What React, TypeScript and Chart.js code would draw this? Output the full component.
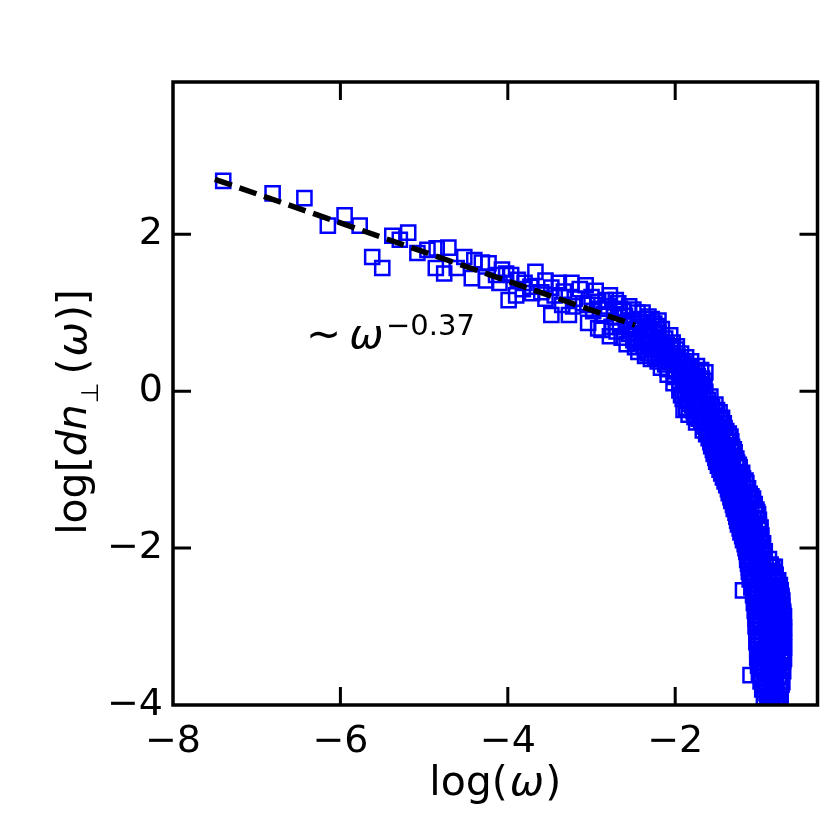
import { useEffect, useRef } from "react";
import { Chart, Plugin, registerables } from "chart.js";

Chart.register(...registerables);

// tick values
const xTicks = [-8, -6, -4, -2];
const yTicks = [-4, -2, 0, 2];

// fitted power law  ~ w^-0.37
const fitX = [-7.5, -2.48];
const fitY = [2.7, 0.84];

// sparse low-frequency points
const headPts: [number, number][] = [
  [-7.4, 2.68], [-6.81, 2.52], [-6.43, 2.46], [-6.15, 2.11], [-5.95, 2.24],
  [-5.77, 2.11], [-5.62, 1.71], [-5.5, 1.57], [-5.38, 1.98], [-5.29, 1.93],
  [-5.19, 2.02], [-5.08, 1.76], [-4.96, 1.8], [-4.85, 1.82], [-4.71, 1.83],
  [-4.86, 1.57], [-4.76, 1.5],
];

// flat part of the spectrum
const shoulderPts: [number, number][] = [
  [-4.61, 1.57], [-4.52, 1.71], [-4.4, 1.67], [-4.31, 1.64], [-4.23, 1.63],
  [-4.43, 1.44], [-4.26, 1.41], [-4.14, 1.48], [-4.02, 1.5], [-3.96, 1.48],
  [-4.07, 1.55], [-3.99, 1.16], [-3.88, 1.42], [-3.8, 1.38], [-3.73, 1.33],
  [-3.67, 1.52], [-3.71, 1.25], [-3.6, 1.26], [-3.55, 1.41], [-3.48, 1.32],
  [-3.48, 0.97], [-3.44, 1.22], [-3.39, 1.38], [-3.33, 1.27], [-3.27, 0.97],
  [-3.24, 1.38], [-3.2, 1.18], [-3.14, 1.3], [-3.07, 1.35], [-3.05, 1.1],
  [-3.0, 1.2], [-2.95, 1.28], [-2.9, 1.05], [-2.83, 1.16], [-2.78, 1.22],
  [-2.71, 1.16], [-2.66, 1.05], [-3.04, 0.87], [-2.88, 0.78], [-2.76, 0.82],
  [-2.66, 0.82], [-2.6, 0.96], [-2.55, 1.08], [-2.52, 0.9], [-2.45, 1.0],
  [-2.42, 0.78], [-2.36, 0.82], [-2.32, 0.95], [-2.48, 0.56], [-2.36, 0.45],
  [-3.1, 1.12], [-2.98, 1.02], [-2.92, 1.14], [-2.85, 0.98], [-2.8, 1.08],
  [-2.73, 0.95], [-2.68, 1.12], [-2.62, 1.02], [-2.57, 0.88], [-2.5, 1.04],
  [-2.44, 0.92], [-2.39, 1.0], [-2.34, 0.88], [-2.28, 0.92], [-2.25, 0.86],
  [-2.2, 0.9], [-3.35, 1.1], [-3.22, 1.08], [-3.55, 1.18], [-3.82, 1.3],
  [-3.9, 1.22], [-4.1, 1.38],
];

// knee, where the spectrum bends down
const kneePts: [number, number][] = [
  [-2.92, 0.8], [-2.7, 0.76], [-2.58, 0.84], [-2.47, 0.79], [-2.4, 0.86], [-2.3, 0.77], [-2.22, 0.83], [-2.16, 0.79],
  [-2.78, 0.7], [-2.64, 0.68], [-2.55, 0.73], [-2.44, 0.66], [-2.37, 0.71], [-2.28, 0.69], [-2.2, 0.74], [-2.12, 0.67], [-2.06, 0.71],
  [-2.58, 0.6], [-2.47, 0.63], [-2.38, 0.57], [-2.31, 0.61], [-2.24, 0.58], [-2.17, 0.63], [-2.1, 0.59], [-2.03, 0.62], [-1.98, 0.57],
  [-2.44, 0.5], [-2.33, 0.48], [-2.26, 0.53], [-2.19, 0.47], [-2.12, 0.51], [-2.06, 0.49], [-1.99, 0.53], [-1.93, 0.48],
  [-2.29, 0.41], [-2.21, 0.38], [-2.14, 0.42], [-2.07, 0.37], [-2.01, 0.41], [-1.94, 0.39], [-1.87, 0.43], [-1.81, 0.38],
  [-2.17, 0.3], [-2.09, 0.28], [-2.02, 0.33], [-1.95, 0.27], [-1.88, 0.31], [-1.81, 0.29], [-1.74, 0.32], [-1.69, 0.27],
  [-2.09, 0.21], [-2.01, 0.18], [-1.94, 0.22], [-1.87, 0.17], [-1.8, 0.21], [-1.73, 0.19], [-1.64, 0.24], [-1.68, 0.16],
  [-2.02, 0.1], [-1.95, 0.08], [-1.88, 0.12], [-1.81, 0.07], [-1.75, 0.11], [-1.69, 0.09], [-1.65, 0.13],
  [-1.95, 0.01], [-1.88, -0.02], [-1.82, 0.02], [-1.76, -0.03], [-1.7, 0.0], [-1.64, -0.01],
  [-1.91, -0.1], [-1.85, -0.12], [-1.79, -0.08], [-1.73, -0.13], [-1.67, -0.09], [-1.61, -0.11], [-1.58, -0.07],
  [-1.87, -0.21], [-1.9, -0.24], [-1.8, -0.18], [-1.74, -0.22], [-1.68, -0.19], [-1.62, -0.23], [-1.56, -0.2], [-1.52, -0.17],
  [-1.84, -0.3], [-1.77, -0.33], [-1.71, -0.28], [-1.65, -0.32], [-1.59, -0.29], [-1.53, -0.31], [-1.47, -0.27],
  [-1.75, -0.4], [-1.69, -0.38], [-1.63, -0.42], [-1.57, -0.39], [-1.51, -0.43], [-1.46, -0.37], [-1.42, -0.41],
  [-1.67, -0.5], [-1.61, -0.52], [-1.55, -0.48], [-1.5, -0.53], [-1.44, -0.49], [-1.39, -0.51],
  [-1.6, -0.6], [-1.54, -0.58], [-1.49, -0.62], [-1.44, -0.59], [-1.39, -0.63], [-1.34, -0.58],
  [-1.57, -0.7], [-1.52, -0.73], [-1.47, -0.68], [-1.42, -0.72], [-1.37, -0.69], [-1.32, -0.71],
  [-1.54, -0.8], [-1.49, -0.78], [-1.44, -0.82], [-1.39, -0.79], [-1.34, -0.83], [-1.29, -0.78],
  [-1.51, -0.9], [-1.46, -0.92], [-1.41, -0.88], [-1.36, -0.93], [-1.31, -0.89], [-1.26, -0.91],
  [-1.47, -1.0], [-1.42, -0.98], [-1.37, -1.02], [-1.32, -0.99], [-1.27, -1.03], [-1.23, -0.97],
];

// more knee points lying between the rows above
const kneeFillPts: [number, number][] = [
  [-2.5, 0.65], [-2.4, 0.62], [-2.29, 0.64], [-2.15, 0.55], [-2.05, 0.56], [-2.36, 0.53],
  [-2.24, 0.44], [-2.1, 0.45], [-1.97, 0.44], [-1.9, 0.35], [-2.12, 0.34], [-1.99, 0.25],
  [-1.84, 0.24], [-1.77, 0.26], [-1.91, 0.15], [-1.78, 0.14], [-1.72, 0.05], [-1.85, 0.04],
  [-1.67, 0.06], [-1.93, -0.05], [-1.8, -0.04], [-1.62, -0.16], [-1.71, -0.15], [-1.83, -0.16],
  [-1.78, -0.26], [-1.6, -0.25], [-1.5, -0.24], [-1.72, -0.35], [-1.56, -0.36], [-1.44, -0.34],
  [-1.66, -0.45], [-1.53, -0.46], [-1.41, -0.47], [-1.63, -0.55], [-1.47, -0.56], [-1.36, -0.54],
  [-1.58, -0.65], [-1.45, -0.66], [-1.33, -0.64], [-1.55, -0.75], [-1.4, -0.76], [-1.3, -0.74],
  [-1.52, -0.85], [-1.38, -0.84], [-1.27, -0.86], [-1.49, -0.95], [-1.34, -0.96], [-1.24, -0.94],
];

// steep high-frequency tail
const tailPts: [number, number][] = [
  [-1.43, -1.1], [-1.38, -1.12], [-1.33, -1.08], [-1.28, -1.13], [-1.23, -1.09], [-1.19, -1.11],
  [-1.39, -1.2], [-1.34, -1.18], [-1.29, -1.22], [-1.24, -1.19], [-1.19, -1.23], [-1.15, -1.17],
  [-1.36, -1.3], [-1.31, -1.32], [-1.26, -1.28], [-1.21, -1.33], [-1.16, -1.29], [-1.11, -1.31],
  [-1.33, -1.4], [-1.28, -1.38], [-1.23, -1.42], [-1.18, -1.39], [-1.13, -1.43], [-1.07, -1.37],
  [-1.3, -1.5], [-1.25, -1.52], [-1.2, -1.48], [-1.15, -1.53], [-1.09, -1.49], [-1.03, -1.51],
  [-1.27, -1.6], [-1.22, -1.58], [-1.17, -1.62], [-1.12, -1.59], [-1.06, -1.63], [-1.01, -1.57],
  [-1.25, -1.7], [-1.2, -1.72], [-1.15, -1.68], [-1.1, -1.73], [-1.05, -1.69], [-1.0, -1.71],
  [-1.22, -1.8], [-1.17, -1.78], [-1.12, -1.82], [-1.07, -1.79], [-1.02, -1.83], [-0.99, -1.77],
  [-1.19, -1.9], [-1.14, -1.92], [-1.09, -1.88], [-1.04, -1.93], [-0.99, -1.89],
  [-1.16, -2.0], [-1.11, -1.98], [-1.06, -2.02], [-1.01, -1.99], [-0.97, -2.03],
  [-1.14, -2.1], [-1.09, -2.12], [-1.04, -2.08], [-0.99, -2.13], [-0.95, -2.09],
  [-1.13, -2.2], [-1.08, -2.18], [-1.03, -2.22], [-0.98, -2.19], [-0.92, -2.23], [-0.86, -2.21], [-0.81, -2.24],
  [-1.12, -2.3], [-1.06, -2.32], [-1.01, -2.28], [-0.95, -2.33], [-0.89, -2.29], [-0.83, -2.31],
  [-1.11, -2.4], [-1.05, -2.38], [-0.99, -2.42], [-0.93, -2.39], [-0.87, -2.43], [-0.81, -2.37], [-0.77, -2.41],
  [-1.19, -2.54], [-1.09, -2.5], [-1.03, -2.52], [-0.97, -2.48], [-0.91, -2.53], [-0.85, -2.49], [-0.79, -2.51], [-0.75, -2.47],
  [-1.07, -2.6], [-1.01, -2.58], [-0.95, -2.62], [-0.89, -2.59], [-0.83, -2.63], [-0.77, -2.57], [-0.73, -2.61],
  [-1.06, -2.7], [-1.0, -2.72], [-0.94, -2.68], [-0.88, -2.73], [-0.82, -2.69], [-0.76, -2.71], [-0.72, -2.67],
  [-1.05, -2.8], [-0.99, -2.78], [-0.93, -2.82], [-0.87, -2.79], [-0.81, -2.83], [-0.75, -2.77], [-0.71, -2.81],
  [-1.04, -2.9], [-0.98, -2.92], [-0.92, -2.88], [-0.86, -2.93], [-0.8, -2.89], [-0.74, -2.91], [-0.7, -2.87],
  [-1.04, -3.0], [-0.98, -2.98], [-0.92, -3.02], [-0.86, -2.99], [-0.8, -3.03], [-0.75, -2.97], [-0.7, -3.01],
  [-1.03, -3.1], [-0.97, -3.12], [-0.91, -3.08], [-0.85, -3.13], [-0.79, -3.09], [-0.74, -3.11], [-0.7, -3.07],
  [-1.03, -3.2], [-0.97, -3.18], [-0.91, -3.22], [-0.85, -3.19], [-0.79, -3.23], [-0.74, -3.17], [-0.7, -3.21],
  [-1.02, -3.3], [-0.96, -3.32], [-0.9, -3.28], [-0.84, -3.33], [-0.78, -3.29], [-0.73, -3.31], [-0.7, -3.27],
  [-1.02, -3.4], [-0.96, -3.38], [-0.9, -3.42], [-0.84, -3.39], [-0.78, -3.43], [-0.73, -3.37], [-0.7, -3.41],
  [-1.01, -3.5], [-0.95, -3.52], [-0.89, -3.48], [-0.83, -3.53], [-0.77, -3.49], [-0.72, -3.51],
  [-1.1, -3.62], [-1.0, -3.6], [-0.94, -3.58], [-0.88, -3.62], [-0.82, -3.59], [-0.76, -3.63], [-0.71, -3.57],
  [-0.98, -3.7], [-0.92, -3.72], [-0.86, -3.68], [-0.8, -3.73], [-0.75, -3.69], [-0.72, -3.71],
  [-0.96, -3.8], [-0.9, -3.78], [-0.84, -3.82], [-0.79, -3.79], [-0.74, -3.83],
  [-0.94, -3.9], [-0.88, -3.92], [-0.83, -3.88], [-0.78, -3.93], [-0.74, -3.89],
  [-0.9, -3.98], [-0.84, -3.97], [-0.79, -3.99],
];

// more tail points lying between the rows above
const tailFillPts: [number, number][] = [
  [-1.45, -1.05], [-1.3, -1.06], [-1.2, -1.04], [-1.41, -1.15], [-1.26, -1.16], [-1.16, -1.14],
  [-1.37, -1.25], [-1.22, -1.26], [-1.13, -1.24], [-1.34, -1.35], [-1.19, -1.36], [-1.09, -1.34],
  [-1.31, -1.45], [-1.17, -1.46], [-1.05, -1.44], [-1.28, -1.55], [-1.14, -1.56], [-1.02, -1.54],
  [-1.26, -1.65], [-1.12, -1.66], [-1.0, -1.64], [-1.23, -1.75], [-1.08, -1.76], [-0.98, -1.74],
  [-1.2, -1.85], [-1.06, -1.86], [-0.97, -1.84], [-1.17, -1.95], [-1.03, -1.96], [-0.95, -1.94],
  [-1.15, -2.05], [-1.02, -2.06], [-0.93, -2.04], [-1.14, -2.15], [-1.01, -2.16], [-0.88, -2.14],
  [-1.12, -2.25], [-0.97, -2.26], [-0.84, -2.24], [-1.1, -2.35], [-0.96, -2.36], [-0.8, -2.34],
  [-1.08, -2.45], [-0.94, -2.46], [-0.78, -2.44], [-1.06, -2.55], [-0.92, -2.56], [-0.74, -2.54],
  [-1.05, -2.65], [-0.9, -2.66], [-0.73, -2.64], [-1.04, -2.75], [-0.89, -2.76], [-0.72, -2.74],
  [-1.03, -2.85], [-0.88, -2.86], [-0.71, -2.84], [-1.02, -2.95], [-0.87, -2.96], [-0.71, -2.94],
  [-1.02, -3.05], [-0.88, -3.06], [-0.72, -3.04], [-1.01, -3.15], [-0.87, -3.16], [-0.71, -3.14],
  [-1.01, -3.25], [-0.86, -3.26], [-0.71, -3.24], [-1.0, -3.35], [-0.85, -3.36], [-0.71, -3.34],
  [-0.99, -3.45], [-0.85, -3.46], [-0.71, -3.44], [-0.98, -3.55], [-0.84, -3.56], [-0.72, -3.54],
  [-0.97, -3.65], [-0.83, -3.66], [-0.73, -3.64], [-0.94, -3.75], [-0.82, -3.76], [-0.73, -3.74],
  [-0.91, -3.85], [-0.81, -3.86], [-0.76, -3.95], [-0.86, -3.95],
];

const FONT = "'DejaVu Sans', sans-serif";
const TICK_LEN = 18;

type Run = { text: string; font: string; dy?: number; gap?: number };

function drawRuns(ctx: CanvasRenderingContext2D, runs: Run[], x: number, y: number) {
  let cx = x;
  for (const r of runs) {
    cx += r.gap ?? 0;
    ctx.font = r.font;
    ctx.fillText(r.text, cx, y + (r.dy ?? 0));
    cx += ctx.measureText(r.text).width;
  }
}

function runsWidth(ctx: CanvasRenderingContext2D, runs: Run[]) {
  let w = 0;
  for (const r of runs) {
    ctx.font = r.font;
    w += (r.gap ?? 0) + ctx.measureText(r.text).width;
  }
  return w;
}

const framePlugin: Plugin = {
  id: "frame",
  afterDraw(chart) {
    const { ctx, chartArea: a, scales } = chart;
    ctx.save();
    ctx.strokeStyle = "#000";
    ctx.lineWidth = 3.5;
    ctx.strokeRect(a.left, a.top, a.right - a.left, a.bottom - a.top);

    // inward ticks on all four sides
    ctx.lineWidth = 3;
    ctx.beginPath();
    for (const v of xTicks) {
      const px = scales.x.getPixelForValue(v);
      if (px <= a.left + 2 || px >= a.right - 2) continue;
      ctx.moveTo(px, a.bottom);
      ctx.lineTo(px, a.bottom - TICK_LEN);
      ctx.moveTo(px, a.top);
      ctx.lineTo(px, a.top + TICK_LEN);
    }
    for (const v of yTicks) {
      const py = scales.y.getPixelForValue(v);
      if (py <= a.top + 2 || py >= a.bottom - 2) continue;
      ctx.moveTo(a.left, py);
      ctx.lineTo(a.left + TICK_LEN, py);
      ctx.moveTo(a.right, py);
      ctx.lineTo(a.right - TICK_LEN, py);
    }
    ctx.stroke();

    ctx.fillStyle = "#000";
    ctx.textBaseline = "alphabetic";
    ctx.textAlign = "left";

    // x axis title
    const xRuns: Run[] = [
      { text: "log(", font: `41px ${FONT}` },
      { text: "ω", font: `italic 41px ${FONT}`, gap: 2 },
      { text: ")", font: `41px ${FONT}`, gap: 1 },
    ];
    const xw = runsWidth(ctx, xRuns);
    drawRuns(ctx, xRuns, (a.left + a.right) / 2 - xw / 2, 795);

    // y axis title
    const yRuns: Run[] = [
      { text: "log[", font: `41px ${FONT}` },
      { text: "dn", font: `italic 41px ${FONT}` },
      { text: "⊥", font: `24px ${FONT}`, dy: 12, gap: 1 },
      { text: "(", font: `41px ${FONT}`, gap: 8 },
      { text: "ω", font: `italic 41px ${FONT}`, gap: 2 },
      { text: ")]", font: `41px ${FONT}`, gap: 1 },
    ];
    const yw = runsWidth(ctx, yRuns);
    ctx.save();
    ctx.translate(86, 412);
    ctx.rotate(-Math.PI / 2);
    drawRuns(ctx, yRuns, -yw / 2, 0);
    ctx.restore();

    // power-law annotation
    drawRuns(
      ctx,
      [
        { text: "∼", font: `42px ${FONT}` },
        { text: "ω", font: `italic 41px ${FONT}`, gap: 8 },
      ],
      306,
      348
    );
    ctx.font = `29px ${FONT}`;
    ctx.fillText("−0.37", 386, 335);

    ctx.restore();
  },
};

const fmt = (v: number | string) => String(v).replace("-", "−");

export default function App() {
  const canvasRef = useRef<HTMLCanvasElement>(null);
  const chartRef = useRef<Chart | null>(null);

  useEffect(() => {
    if (!canvasRef.current) return;
    if (chartRef.current) chartRef.current.destroy();

    const pts = [...headPts, ...shoulderPts, ...kneePts, ...kneeFillPts, ...tailPts, ...tailFillPts].map(
      ([x, y]) => ({ x, y })
    );

    chartRef.current = new Chart(canvasRef.current, {
      type: "scatter",
      data: {
        datasets: [
          {
            type: "line",
            label: "fit",
            data: fitX.map((x, i) => ({ x, y: fitY[i] })),
            borderColor: "#000",
            borderWidth: 5.5,
            borderDash: [18, 8],
            pointRadius: 0,
            fill: false,
            order: 0,
          },
          {
            label: "data",
            data: pts,
            pointStyle: "rect",
            pointRadius: 10,
            pointBorderWidth: 2.5,
            pointBorderColor: "#0000ff",
            pointBackgroundColor: "rgba(0,0,0,0)",
            order: 1,
          },
        ],
      },
      options: {
        animation: false,
        responsive: true,
        maintainAspectRatio: false,
        events: [],
        layout: { padding: { top: 82, right: 10, left: 0, bottom: 0 } },
        plugins: { legend: { display: false }, tooltip: { enabled: false } },
        scales: {
          x: {
            type: "linear",
            min: -8,
            max: -0.3,
            grid: { display: false, drawTicks: false },
            border: { display: false },
            afterBuildTicks: (s) => {
              s.ticks = xTicks.map((value) => ({ value }));
            },
            afterFit: (s) => {
              s.height = 125;
            },
            ticks: {
              color: "#000",
              padding: 18,
              font: { family: FONT, size: 38, lineHeight: 1 },
              callback: (v) => fmt(v),
            },
          },
          y: {
            type: "linear",
            min: -4,
            max: 3.94,
            grid: { display: false, drawTicks: false },
            border: { display: false },
            afterBuildTicks: (s) => {
              s.ticks = yTicks.map((value) => ({ value }));
            },
            afterFit: (s) => {
              s.width = 173;
            },
            ticks: {
              color: "#000",
              padding: 10,
              font: { family: FONT, size: 38, lineHeight: 1 },
              callback: (v) => fmt(v),
            },
          },
        },
      },
      plugins: [framePlugin],
    });

    return () => {
      chartRef.current?.destroy();
      chartRef.current = null;
    };
  }, []);

  return (
    <div style={{ position: "fixed", left: 0, top: 0, width: 830, height: 830, background: "#fff" }}>
      <canvas ref={canvasRef} />
    </div>
  );
}
